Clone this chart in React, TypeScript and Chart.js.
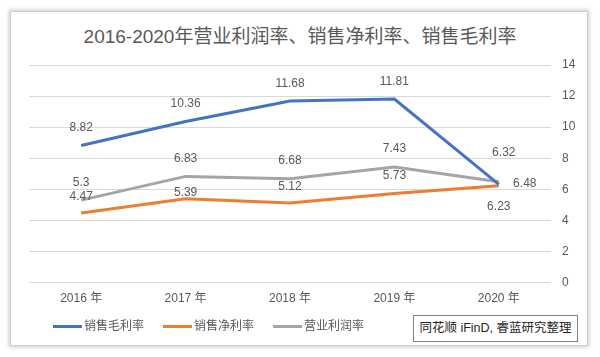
import React, { useEffect, useRef } from "react";
import { Chart, registerables } from "chart.js";
Chart.register(...registerables);

const titleText = "2016-2020年营业利润率、销售净利率、销售毛利率";
const sourceText = "同花顺 iFinD, 睿蓝研究整理";
const years = ["2016 年", "2017 年", "2018 年", "2019 年", "2020 年"];
const grossMargin = [8.82, 10.36, 11.68, 11.81, 6.32];
const netMargin = [4.47, 5.39, 5.12, 5.73, 6.23];
const operatingMargin = [5.3, 6.83, 6.68, 7.43, 6.48];
const seriesNames = ["销售毛利率", "销售净利率", "营业利润率"];
const seriesColors = ["#4472C4", "#ED7D31", "#A5A5A5"];
const yMin = 0;
const yMax = 14;
const yStep = 2;

// label offsets (style only)
const grossOffsets = [[0, -17.5], [0, -17.5], [0, -17.5], [0, -17.5], [5, -32]];
const netOffsets = [[0, -16.5], [0, -6], [0, -16.5], [0, -17.5], [0, 21]];
const opOffsets = [[0, -17.5], [0, -17.5], [0, -18.5], [0, -18], [26, 2]];

const FONT = "'Liberation Sans', 'Noto Sans CJK SC', sans-serif";
const TEXT = "#595959";

const labelPlugin = {
  id: "valueLabels",
  afterDatasetsDraw(chart: any) {
    const ctx = chart.ctx;
    ctx.save();
    ctx.font = `12px ${FONT}`;
    ctx.fillStyle = TEXT;
    ctx.textAlign = "center";
    ctx.textBaseline = "middle";
    chart.data.datasets.forEach((ds: any, i: number) => {
      const meta = chart.getDatasetMeta(i);
      meta.data.forEach((pt: any, j: number) => {
        const off = ds.labelOffsets[j];
        ctx.fillText(String(ds.data[j]), pt.x + off[0], pt.y + off[1]);
      });
    });
    ctx.restore();
  },
};

export default function App() {
  const ref = useRef<HTMLCanvasElement>(null);
  useEffect(() => {
    const allData = [grossMargin, netMargin, operatingMargin];
    const allOffsets = [grossOffsets, netOffsets, opOffsets];
    const chart = new Chart(ref.current!, {
      type: "line",
      data: {
        labels: years,
        datasets: seriesNames.map((name, i) => ({
          label: name,
          data: allData[i],
          borderColor: seriesColors[i],
          backgroundColor: seriesColors[i],
          borderWidth: 3,
          pointRadius: 0,
          tension: 0,
          labelOffsets: allOffsets[i],
        })) as any,
      },
      options: {
        animation: false,
        responsive: false,
        layout: { padding: { left: 29, top: 65, right: 0, bottom: 0 } },
        plugins: {
          legend: { display: false },
          title: { display: false },
          tooltip: { enabled: false },
        },
        scales: {
          x: {
            type: "category",
            offset: true,
            grid: { display: false, drawTicks: false },
            border: { display: false },
            ticks: { color: TEXT, font: { size: 12, family: FONT }, padding: 9 },
            afterFit: (s: any) => {
              s.height = 74.5;
            },
          },
          y: {
            position: "right",
            min: yMin,
            max: yMax,
            ticks: { stepSize: yStep, color: TEXT, font: { size: 12, family: FONT }, padding: 11 },
            grid: { color: "#D9D9D9", lineWidth: 1, drawTicks: false },
            border: { display: false },
            afterFit: (s: any) => {
              s.width = 49;
            },
          },
        },
      },
      plugins: [labelPlugin],
    });
    return () => chart.destroy();
  }, []);

  return (
    <div style={{ position: "fixed", left: 0, top: 0, width: 600, height: 357, background: "#fff", fontFamily: FONT }}>
      <div
        style={{
          position: "absolute",
          left: 10,
          top: 11,
          width: 576,
          height: 333,
          border: "1px solid #D0D0D0",
          boxShadow: "0 0 4px 1px rgba(0,0,0,0.22)",
          background: "#fff",
        }}
      />
      <div
        style={{
          position: "absolute",
          left: 0,
          width: 600,
          top: 24,
          lineHeight: "26px",
          fontSize: 19,
          color: TEXT,
          textAlign: "center",
        }}
      >
        {titleText}
      </div>
      <canvas ref={ref} width={600} height={357} style={{ position: "absolute", left: 0, top: 0 }} />
      <div style={{ position: "absolute", left: 53, top: 318, display: "flex", height: 16 }}>
        {seriesNames.map((n, i) => (
          <div key={n} style={{ display: "flex", alignItems: "center", width: 110 }}>
            <span style={{ display: "inline-block", width: 29, height: 3, background: seriesColors[i], marginRight: 2 }} />
            <span style={{ fontSize: 12, color: TEXT, lineHeight: "16px" }}>{n}</span>
          </div>
        ))}
      </div>
      <div
        style={{
          position: "absolute",
          left: 413,
          top: 315,
          width: 163,
          height: 25,
          border: "1px solid #7F7F7F",
          fontSize: 12.5,
          color: "#262626",
          lineHeight: "25px",
          textAlign: "center",
          background: "#fff",
        }}
      >
        {sourceText}
      </div>
    </div>
  );
}
